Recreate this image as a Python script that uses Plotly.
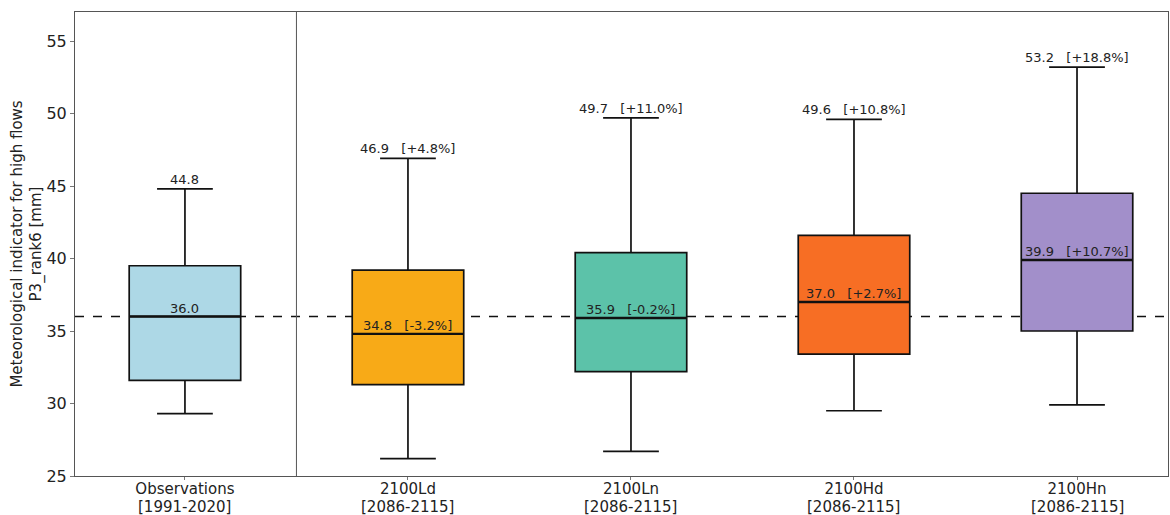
import plotly.graph_objects as go

# Scenario categories and their tick labels
categories = ["Observations", "2100Ld", "2100Ln", "2100Hd", "2100Hn"]
periods = ["[1991-2020]", "[2086-2115]", "[2086-2115]", "[2086-2115]", "[2086-2115]"]

# Box statistics (mm)
lower_whisker = [29.3, 26.2, 26.7, 29.5, 29.9]
q1 = [31.6, 31.3, 32.2, 33.4, 35.0]
median = [36.0, 34.8, 35.9, 37.0, 39.9]
q3 = [39.5, 39.2, 40.4, 41.6, 44.5]
upper_whisker = [44.8, 46.9, 49.7, 49.6, 53.2]

# Relative changes versus observations
median_change = ["", "[-3.2%]", "[-0.2%]", "[+2.7%]", "[+10.7%]"]
upper_change = ["", "[+4.8%]", "[+11.0%]", "[+10.8%]", "[+18.8%]"]

colors = ["#add8e6", "#f8aa17", "#5cc2a9", "#f76e24", "#a28fca"]

FONT = "DejaVu Sans"
positions = list(range(len(categories)))

fig = go.Figure()

for i, cat in enumerate(categories):
    fig.add_trace(go.Box(
        x=[positions[i]],
        q1=[q1[i]], median=[median[i]], q3=[q3[i]],
        lowerfence=[lower_whisker[i]], upperfence=[upper_whisker[i]],
        name=cat,
        width=0.5,
        whiskerwidth=0.5,
        fillcolor=colors[i],
        line=dict(color="#111111", width=1.7),
        boxpoints=False,
        hoverinfo="skip",
        showlegend=False,
    ))
    # thicker median bar
    fig.add_trace(go.Scatter(
        x=[positions[i] - 0.25, positions[i] + 0.25],
        y=[median[i], median[i]],
        mode="lines",
        line=dict(color="#111111", width=2.4),
        hoverinfo="skip",
        showlegend=False,
    ))

gap = "\u00a0\u00a0\u00a0"
for i in positions:
    top_txt = f"{upper_whisker[i]:.1f}" + (gap + upper_change[i] if upper_change[i] else "")
    mid_txt = f"{median[i]:.1f}" + (gap + median_change[i] if median_change[i] else "")
    fig.add_annotation(x=positions[i], y=upper_whisker[i], text=top_txt,
                       showarrow=False, yanchor="bottom", yshift=0,
                       font=dict(family=FONT, size=13, color="#222222"))
    fig.add_annotation(x=positions[i], y=median[i], text=mid_txt,
                       showarrow=False, yanchor="bottom", yshift=-1,
                       font=dict(family=FONT, size=13, color="#222222"))
    # period line under each category tick label
    fig.add_annotation(x=positions[i], xref="x", y=0, yref="paper", text=periods[i],
                       showarrow=False, yanchor="middle", yshift=-31,
                       font=dict(family=FONT, size=15, color="#222222"))

# reference level (observed median) and separator
fig.add_shape(type="line", xref="paper", x0=0, x1=1, yref="y", y0=median[0], y1=median[0],
              line=dict(color="#111111", width=1.3, dash="dash"), layer="below")
fig.add_shape(type="line", xref="x", x0=0.5, x1=0.5, yref="paper", y0=0, y1=1,
              line=dict(color="#555555", width=1))

fig.update_layout(
    width=1170, height=515,
    margin=dict(l=75, r=2, t=12, b=39, autoexpand=False),
    plot_bgcolor="white", paper_bgcolor="white",
    font=dict(family=FONT, size=14, color="#222222"),
    showlegend=False,
)
fig.update_xaxes(
    range=[-0.493, 4.408],
    tickmode="array", tickvals=positions, ticktext=categories,
    ticks="outside", ticklen=3, tickcolor="#777777", ticklabelstandoff=-4,
    showline=True, linecolor="#555555", linewidth=1, mirror=True,
    showgrid=False, zeroline=False, automargin=False,
    tickfont=dict(family=FONT, size=15, color="#222222"),
)
fig.update_yaxes(
    range=[25, 57],
    tickmode="array", tickvals=[25, 30, 35, 40, 45, 50, 55],
    ticks="outside", ticklen=4, tickcolor="#777777",
    showline=True, linecolor="#555555", linewidth=1, mirror=True,
    showgrid=False, zeroline=False, automargin=False,
    tickfont=dict(family=FONT, size=16, color="#222222"),
    title=dict(text="Meteorological indicator for high flows<br>P3_rank6 [mm]",
               font=dict(family=FONT, size=15, color="#222222"), standoff=0),
)

fig.write_html("out.html")
